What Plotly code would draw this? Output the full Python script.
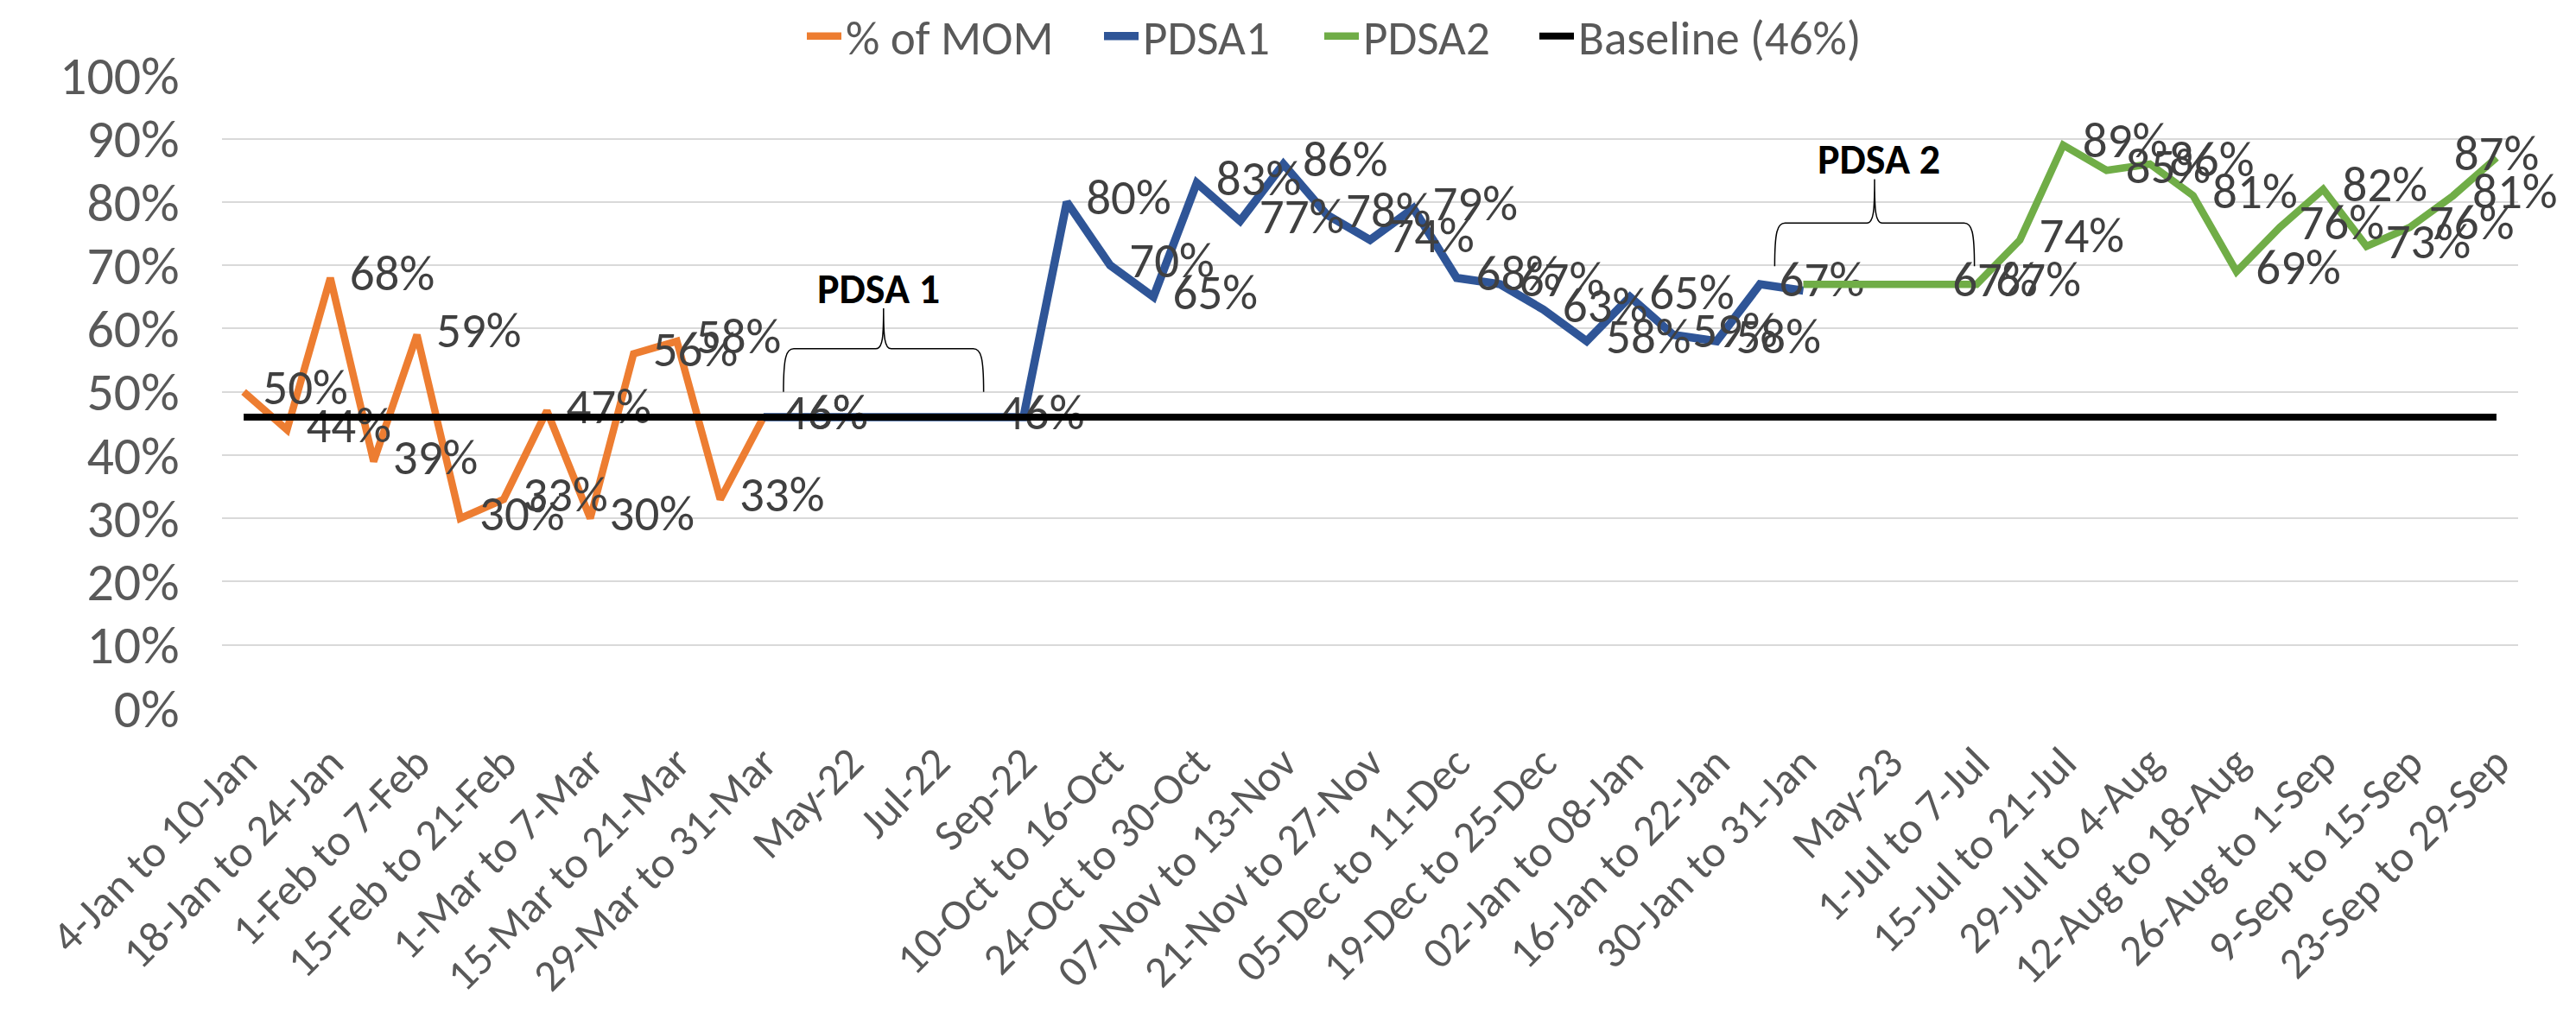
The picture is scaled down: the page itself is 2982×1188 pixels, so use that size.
import plotly.graph_objects as go

categories = [
    "4-Jan to 10-Jan", "11-Jan to 17-Jan", "18-Jan to 24-Jan", "25-Jan to 31-Jan",
    "1-Feb to 7-Feb", "8-Feb to 14-Feb", "15-Feb to 21-Feb", "22-Feb to 28-Feb",
    "1-Mar to 7-Mar", "8-Mar to 14-Mar", "15-Mar to 21-Mar", "22-Mar to 28-Mar",
    "29-Mar to 31-Mar", "Apr-22", "May-22", "Jun-22", "Jul-22", "Aug-22", "Sep-22",
    "03-Oct to 09-Oct", "10-Oct to 16-Oct", "17-Oct to 23-Oct", "24-Oct to 30-Oct",
    "31-Oct to 06-Nov", "07-Nov to 13-Nov", "14-Nov to 20-Nov", "21-Nov to 27-Nov",
    "28-Nov to 04-Dec", "05-Dec to 11-Dec", "12-Dec to 18-Dec", "19-Dec to 25-Dec",
    "26-Dec to 01-Jan", "02-Jan to 08-Jan", "09-Jan to 15-Jan", "16-Jan to 22-Jan",
    "23-Jan to 29-Jan", "30-Jan to 31-Jan", "Feb-23 to Apr-23", "May-23", "Jun-23",
    "1-Jul to 7-Jul", "8-Jul to 14-Jul", "15-Jul to 21-Jul", "22-Jul to 28-Jul",
    "29-Jul to 4-Aug", "5-Aug to 11-Aug", "12-Aug to 18-Aug", "19-Aug to 25-Aug",
    "26-Aug to 1-Sep", "2-Sep to 8-Sep", "9-Sep to 15-Sep", "16-Sep to 22-Sep",
    "23-Sep to 29-Sep",
]
N = len(categories)

# % of MOM (orange), indices 0..12
mom_values = [0.50, 0.44, 0.68, 0.39, 0.59, 0.30, 0.33, 0.47, 0.30, 0.56, 0.58, 0.33, 0.46]
# PDSA1 (blue), starting at index 12
pdsa1_values = [0.46, None, None, None, None, 0.46, 0.46,
                0.80, 0.70, 0.65, 0.83, 0.77, 0.86, 0.78, 0.74, 0.79,
                0.68, 0.67, 0.63, 0.58, 0.65, 0.59, 0.58, 0.67, 0.66]
pdsa1_start = 12
# PDSA2 (green), starting at index 36
pdsa2_values = [0.67, None, None, 0.67, 0.67, 0.74, 0.89, 0.85, 0.86, 0.81,
                0.69, 0.76, 0.82, 0.73, 0.76, 0.81, 0.87]
pdsa2_start = 36
baseline_value = 0.46

tick_labels = categories[::2]


def full(vals, start):
    out = [None] * N
    for i, v in enumerate(vals):
        out[start + i] = v
    return out


def labels(vals, hide=()):
    return ["" if (v is None or i in hide) else f"{round(v * 100)}%" for i, v in enumerate(vals)]


x = list(range(N))
mom = full(mom_values, 0)
p1 = full(pdsa1_values, pdsa1_start)
p2 = full(pdsa2_values, pdsa2_start)
base = [baseline_value] * N

FONT = "Calibri, Carlito, Lato, sans-serif"
LBL = dict(family=FONT, size=57, color="#404040")
XAX = dict(family=FONT, size=51, color="#595959")
YAX = dict(family=FONT, size=62, color="#595959")
LEG = dict(family=FONT, size=55, color="#595959")

fig = go.Figure()


def add(name, y, color, width, text, legend, pos="middle right"):
    fig.add_trace(go.Scatter(
        x=x, y=y, name=name, mode="lines+markers+text" if text is not None else "lines",
        line=dict(color=color, width=width),
        marker=dict(size=34, color="rgba(0,0,0,0)") if text is not None else None,
        text=text, textposition=pos, textfont=LBL,
        connectgaps=True, cliponaxis=False, hoverinfo="skip", legend=legend,
    ))


add("% of MOM", mom, "#ED7D31", 8.5, labels(mom), "legend")
add("PDSA1", p1, "#2F5597", 9.5, labels(p1, hide=(18, 36)), "legend2")
pos2 = ["middle right"] * N
pos2[N - 1] = "middle center"
add("PDSA2", p2, "#70AD47", 8.5, labels(p2, hide=(36,)), "legend3", pos2)
add("Baseline (46%)", base, "#000000", 8, None, "legend4")

# braces
PX_X = 1 / 50.15
PX_Y = 1 / 733.0


def brace(xl, xr, yb, yh, yt):
    xm = (xl + xr) / 2
    c = 12 * PX_X
    p = (
        f"M {xl},{yb} C {xl},{yb + 0.8 * (yh - yb)} {xl + 3 * PX_X},{yh} {xl + c},{yh} "
        f"L {xm - 9 * PX_X},{yh} "
        f"C {xm - 1 * PX_X},{yh} {xm},{yh + 14 * PX_Y} {xm},{yt} "
        f"C {xm},{yh + 14 * PX_Y} {xm + 1 * PX_X},{yh} {xm + 9 * PX_X},{yh} "
        f"L {xr - c},{yh} "
        f"C {xr - 3 * PX_X},{yh} {xr},{yb + 0.8 * (yh - yb)} {xr},{yb}"
    )
    return dict(type="path", path=p, xref="x", yref="y",
                line=dict(color="black", width=1.5))


fig.add_shape(brace(12.46, 17.08, 0.50, 0.568, 0.632))
fig.add_shape(brace(35.34, 39.95, 0.6985, 0.7667, 0.836))

fig.add_annotation(x=14.65, y=0.6625, text="<b>PDSA 1</b>", showarrow=False,
                   font=dict(family=FONT, size=48, color="black"))
fig.add_annotation(x=37.75, y=0.8674, text="<b>PDSA 2</b>", showarrow=False,
                   font=dict(family=FONT, size=48, color="black"))

# page body has an 8px margin: compensate so the plot lands where the reference has it
OFF = 8
W, H = 2982 - OFF, 1188 - OFF
L, R = 257 - OFF, 2915 - OFF      # plot area left/right in figure px
T, B = 87 - OFF, 820 - OFF        # plot area top/bottom in figure px
PW, PH = R - L, B - T
leg_y = 1 + (T - (42 - OFF)) / PH


def leg(xpx):
    return dict(orientation="h", x=(xpx - OFF - L) / PW, xanchor="left", y=leg_y,
                yanchor="middle", font=LEG, bgcolor="rgba(0,0,0,0)", itemwidth=40)


fig.update_layout(
    template="none",
    width=W, height=H,
    margin=dict(l=L, r=W - R, t=T, b=H - B, pad=0, autoexpand=False),
    plot_bgcolor="white", paper_bgcolor="white",
    font=dict(family=FONT),
    showlegend=True,
    legend=leg(929), legend2=leg(1273), legend3=leg(1528), legend4=leg(1777),
    xaxis=dict(range=[-0.5, N - 0.5], tickmode="array", tickvals=list(range(0, N, 2)),
               ticktext=tick_labels, tickangle=-45, showgrid=False, zeroline=False,
               showline=False, ticks="", tickfont=XAX, ticklabelstandoff=22, automargin=False),
    yaxis=dict(range=[0, 1.0005], tickmode="array", tickvals=[i / 10 for i in range(11)],
               tickformat=".0%", showgrid=True, gridcolor="#D9D9D9", gridwidth=2,
               zeroline=False, showline=False, ticks="outside", ticklen=36,
               tickcolor="rgba(0,0,0,0)", tickfont=YAX, automargin=False),
)

fig.write_html("out.html")
